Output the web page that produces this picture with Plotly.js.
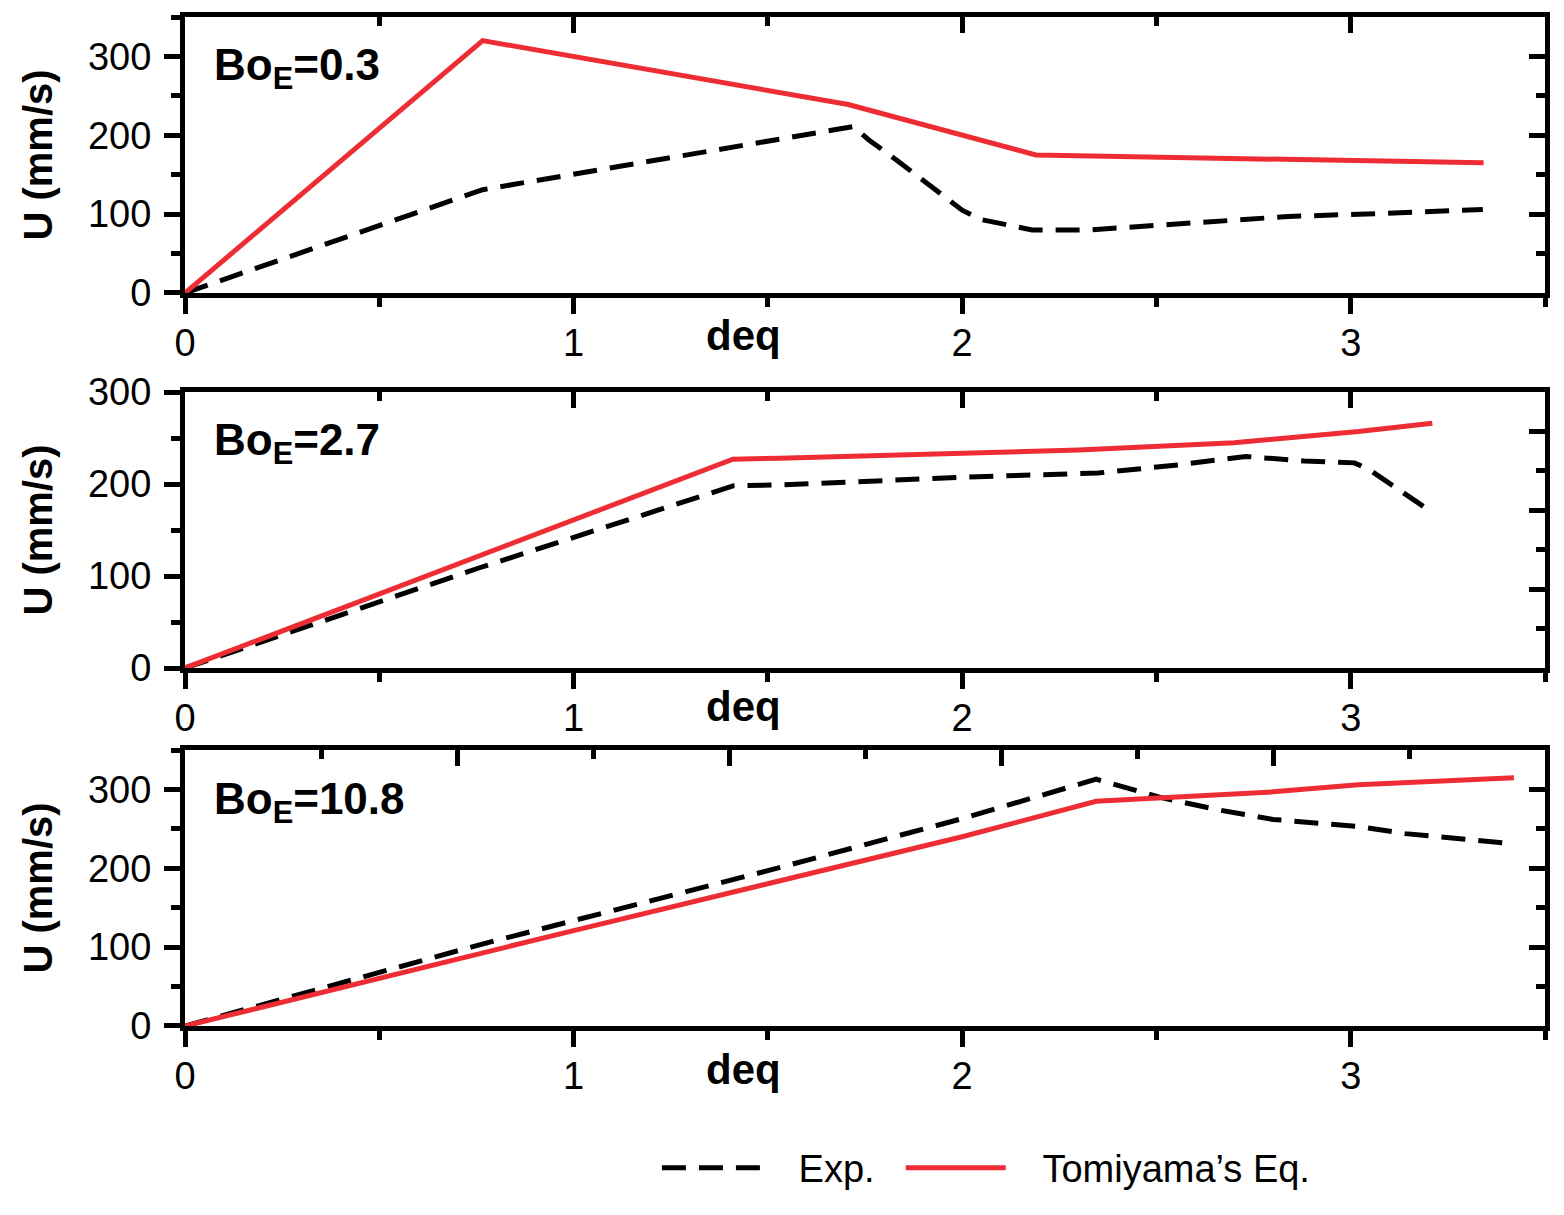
<!DOCTYPE html>
<html>
<head>
<meta charset="utf-8">
<script src="https://cdn.plot.ly/plotly-3.0.1.min.js"></script>
<style>
  body { margin: 0; background: #fff; }
  #myDiv { width: 1564px; height: 1215px; }
</style>
</head>
<body>
<div id="myDiv"></div>
<script>
/* values */
var exp1_x = [0, 0.766, 1.72, 1.76, 1.83, 1.92, 2.0, 2.05, 2.18, 2.33, 2.58, 2.84, 3.09, 3.34];
var exp1_y = [0, 131, 211, 194, 169, 135, 105, 93, 80, 80, 88, 97, 101, 106];
var tom1_x = [0, 0.766, 1.707, 2.19, 3.342];
var tom1_y = [0, 320, 239, 175, 165];

var exp2_x = [0, 0.758, 1.41, 1.53, 2.04, 2.35, 2.56, 2.73, 2.88, 3.01, 3.05, 3.14, 3.2];
var exp2_y = [0, 109, 198, 199, 208, 212, 221, 230, 225, 223, 215, 190, 172];
var tom2_x = [0, 1.41, 1.53, 2.30, 2.70, 3.02, 3.21];
var tom2_y = [0, 227, 228, 237, 245, 257, 266];

var exp3_x = [0, 0.758, 1.5, 2.0, 2.345, 2.51, 2.66, 2.8, 3.02, 3.14, 3.42];
var exp3_y = [0, 103, 197, 263, 313, 290, 274, 262, 253, 244, 231];
var tom3_x = [0, 1, 2, 2.345, 2.8, 3.02, 3.42];
var tom3_y = [0, 121, 240, 285, 297, 306, 315];

var panel_labels = ["Bo<sub>E</sub>=0.3", "Bo<sub>E</sub>=2.7", "Bo<sub>E</sub>=10.8"];
var seriesNames = ["Exp.", "Tomiyama\u2019s Eq."];

var RED = '#ee2c34';
var SANS = 'Liberation Sans, Arial, sans-serif';

/**************************************************************/
function makeTraces() {
  var sets = [
    [exp1_x, exp1_y, tom1_x, tom1_y, 'x', 'y'],
    [exp2_x, exp2_y, tom2_x, tom2_y, 'x2', 'y2'],
    [exp3_x, exp3_y, tom3_x, tom3_y, 'x3', 'y3']
  ];
  var sp = '\u00a0';
  var ret = [];
  for (var i = 0; i < sets.length; i++) {
    var s = sets[i];
    ret.push({
      x: s[0], y: s[1], xaxis: s[4], yaxis: s[5],
      name: sp + sp + sp + seriesNames[0] + sp + sp, legendgroup: 'exp', showlegend: (i == 0),
      mode: 'lines', type: 'scatter',
      line: { color: 'black', width: 5, dash: '24px,13px' }
    });
    ret.push({
      x: s[2], y: s[3], xaxis: s[4], yaxis: s[5],
      name: sp + sp + sp + seriesNames[1], legendgroup: 'tom', showlegend: (i == 0),
      mode: 'lines', type: 'scatter',
      line: { color: RED, width: 5 }
    });
  }
  // empty traces so the mirror axes (top / right) get drawn
  var mir = [['x4', 'y'], ['x', 'y4'], ['x5', 'y2'], ['x2', 'y5'], ['x6', 'y3'], ['x3', 'y6']];
  for (var j = 0; j < mir.length; j++) {
    ret.push({ x: [null], y: [null], xaxis: mir[j][0], yaxis: mir[j][1],
      type: 'scatter', mode: 'lines', showlegend: false, hoverinfo: 'skip' });
  }
  return ret;
}

function bottomAxis(range) {
  return {
    range: range, showline: true, linewidth: 5, linecolor: 'black',
    ticks: 'outside', ticklen: 16, tickwidth: 5, tickcolor: 'black',
    tick0: 0, dtick: 1, showgrid: false, zeroline: false,
    minor: { dtick: 0.5, ticks: 'outside', ticklen: 9, tickwidth: 5, tickcolor: 'black', showgrid: false },
    tickfont: { family: SANS, size: 38, color: 'black' },
    ticklabelstandoff: -4
  };
}

function leftAxis(range, domain, title) {
  return {
    range: range, domain: domain, showline: true, linewidth: 5, linecolor: 'black',
    ticks: 'outside', ticklen: 16, tickwidth: 5, tickcolor: 'black',
    tick0: 0, dtick: 100, showgrid: false, zeroline: false,
    minor: { dtick: 50, ticks: 'outside', ticklen: 9, tickwidth: 5, tickcolor: 'black', showgrid: false },
    tickfont: { family: SANS, size: 38, color: 'black' },
    ticklabelstandoff: 5,
    title: { text: title, font: { family: SANS, size: 40, color: 'black', weight: 'bold' }, standoff: 24 }
  };
}

/* mirror axes: inward ticks, no labels */
function topAxis(over, anchor, range, dt) {
  return {
    overlaying: over, anchor: anchor, side: 'top', range: range,
    showline: true, linewidth: 5, linecolor: 'black',
    ticks: 'inside', ticklen: 16, tickwidth: 5, tickcolor: 'black',
    tick0: 0, dtick: dt, showticklabels: false, showgrid: false, zeroline: false,
    minor: { dtick: dt / 2, ticks: 'inside', ticklen: 9, tickwidth: 5, tickcolor: 'black', showgrid: false }
  };
}

function rightAxis(over, anchor, range) {
  return {
    overlaying: over, anchor: anchor, side: 'right', range: range,
    showline: true, linewidth: 5, linecolor: 'black',
    ticks: 'inside', ticklen: 16, tickwidth: 5, tickcolor: 'black',
    tick0: 0, dtick: 100, showticklabels: false, showgrid: false, zeroline: false,
    minor: { dtick: 50, ticks: 'inside', ticklen: 9, tickwidth: 5, tickcolor: 'black', showgrid: false }
  };
}

function getLayout() {
  var ytitle = 'U (mm/s)';
  var dom1 = [0.7265, 1.0], dom2 = [0.3548, 0.6283], dom3 = [0, 0.2735];
  var xr = [0, 3.5];

  var ann = [];
  var labelY = [0.979, 0.608, 0.252];
  var deqY = [0.684, 0.317, -0.0436];
  for (var i = 0; i < 3; i++) {
    ann.push({
      text: panel_labels[i], xref: 'paper', yref: 'paper',
      x: 0.020, y: labelY[i], xanchor: 'left', yanchor: 'top', showarrow: false,
      font: { family: SANS, size: 44, color: 'black', weight: 'bold' }
    });
    ann.push({
      text: 'deq', xref: 'paper', yref: 'paper',
      x: (743 - 185) / 1360, y: deqY[i], xanchor: 'center', yanchor: 'middle', showarrow: false,
      font: { family: SANS, size: 42, color: 'black', weight: 'bold' }
    });
  }

  return {
    width: 1564, height: 1215,
    margin: { l: 185, r: 19, t: 17, b: 189 },
    paper_bgcolor: 'white', plot_bgcolor: 'white',
    showlegend: true,
    legend: {
      orientation: 'h', x: 0.347, y: -0.1407, xanchor: 'left', yanchor: 'middle',
      itemwidth: 100, tracegroupgap: 0,
      font: { family: SANS, size: 38, color: 'black' },
      bgcolor: 'rgba(0,0,0,0)'
    },
    xaxis: bottomAxis(xr),
    xaxis2: Object.assign(bottomAxis(xr), { anchor: 'y2' }),
    xaxis3: Object.assign(bottomAxis(xr), { anchor: 'y3' }),
    yaxis: Object.assign(leftAxis([0, 350], dom1, ytitle), { anchor: 'x' }),
    yaxis2: Object.assign(leftAxis([0, 300], dom2, ytitle), { anchor: 'x2' }),
    yaxis3: Object.assign(leftAxis([0, 350], dom3, ytitle), { anchor: 'x3' }),
    xaxis4: topAxis('x', 'y', xr, 1),
    xaxis5: topAxis('x2', 'y2', xr, 1),
    xaxis6: topAxis('x3', 'y3', [0, 5], 1),
    yaxis4: rightAxis('y', 'x', [0, 350]),
    yaxis5: rightAxis('y2', 'x2', [0, 350]),
    yaxis6: rightAxis('y3', 'x3', [0, 350]),
    annotations: ann
  };
}

Plotly.newPlot('myDiv', makeTraces(), getLayout(), { displayModeBar: false, staticPlot: true });
</script>
</body>
</html>
